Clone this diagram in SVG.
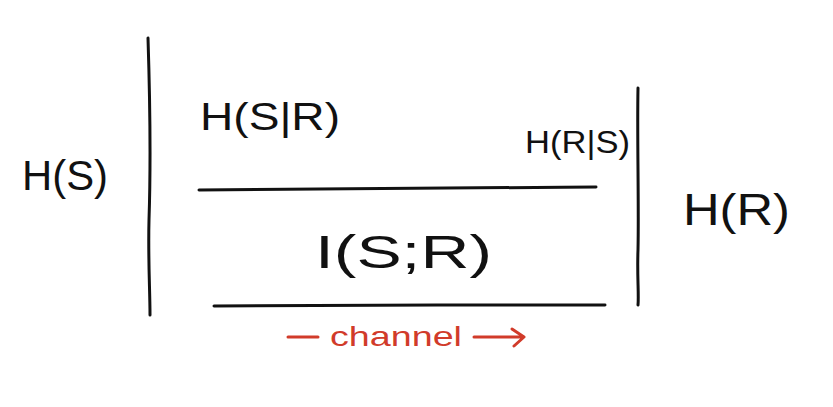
<svg xmlns="http://www.w3.org/2000/svg" width="833" height="407" viewBox="0 0 833 407">
<style>
.ln{fill:none;stroke:#111;stroke-width:3;stroke-linecap:round}
.t{font-family:"Liberation Sans",Arial,sans-serif;fill:#111}
.red{fill:none;stroke:#d13b2a;stroke-width:3;stroke-linecap:round;stroke-linejoin:round}
.rt{font-family:"Liberation Sans",Arial,sans-serif;fill:#d13b2a}
</style>
<rect width="833" height="407" fill="#fff"/>
<g id="connectors">
<path class="ln" d="M148 38 C150 100 151 160 149 220 C148 260 150 290 150 315"/>
<path class="ln" d="M638 88 C637 140 639 200 638 250 C637 275 639 295 638 305"/>
<path class="ln" d="M199 190 C300 188 450 188 596 187"/>
<path class="ln" d="M214 306 C330 305 480 305 605 305"/>
</g>
<g id="HS"><text class="t" x="22" y="190" font-size="42" textLength="86" lengthAdjust="spacingAndGlyphs">H(S)</text></g>
<g id="HSR"><text class="t" x="200" y="130" font-size="38" textLength="140" lengthAdjust="spacingAndGlyphs">H(S|R)</text></g>
<g id="HRS"><text class="t" x="525" y="153" font-size="32" textLength="105" lengthAdjust="spacingAndGlyphs">H(R|S)</text></g>
<g id="ISR"><text class="t" x="315" y="268" font-size="46" textLength="177" lengthAdjust="spacingAndGlyphs">I(S;R)</text></g>
<g id="HR"><text class="t" x="683" y="225" font-size="44" textLength="107" lengthAdjust="spacingAndGlyphs">H(R)</text></g>
<g id="channel">
<path class="red" d="M288 337 L318 337"/>
<text class="rt" x="330" y="346" font-size="28" textLength="132" lengthAdjust="spacingAndGlyphs">channel</text>
<path class="red" d="M474 337 L522 337 M512 329 L524 337 L514 346"/>
</g>
</svg>
